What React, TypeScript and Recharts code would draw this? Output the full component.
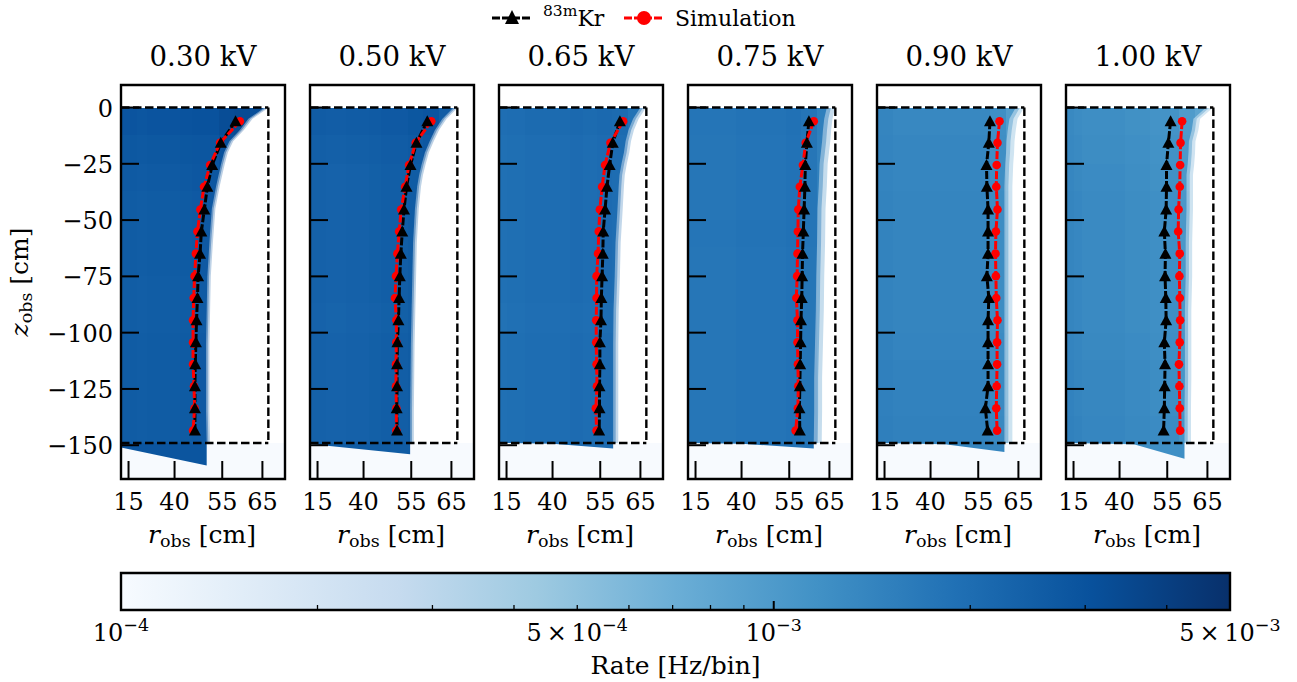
import React from "react";
import {
  Area,
  ComposedChart,
  Line,
  ReferenceArea,
  ReferenceLine,
  XAxis,
  YAxis,
} from "recharts";

// ---------- values ----------
const voltages = ["0.30 kV", "0.50 kV", "0.65 kV", "0.75 kV", "0.90 kV", "1.00 kV"];
const panelLefts = [121, 310, 499, 688, 877, 1066];
const rTicks = [15, 40, 55, 65];
const zTicks = [0, -25, -50, -75, -100, -125, -150];

const markerZ = [-6.1, -15.7, -25.5, -35.2, -45.3, -55.1, -64.9, -74.9, -84.6, -94.5, -104.3, -114, -123.8, -133.6, -143.5];

const krR = [
  [58.5, 54.6, 52.2, 50.8, 49.9, 49.0, 48.6, 48.0, 47.8, 47.5, 47.3, 47.1, 47.0, 47.0, 47.0],
  [59.2, 56.4, 54.8, 53.7, 53.0, 52.5, 52.1, 51.8, 51.6, 51.4, 51.1, 51.0, 51.0, 50.9, 51.0],
  [60.1, 58.3, 57.5, 56.8, 56.3, 55.8, 55.7, 55.5, 55.3, 55.2, 54.9, 54.9, 54.8, 54.8, 54.7],
  [60.1, 59.6, 59.2, 59.1, 58.9, 58.7, 58.5, 58.4, 58.3, 58.1, 58.0, 57.9, 57.8, 57.7, 57.8],
  [58.1, 57.8, 57.2, 57.3, 57.6, 57.6, 57.6, 57.3, 57.8, 57.6, 57.6, 57.6, 57.6, 56.9, 57.5],
  [55.9, 55.3, 54.8, 54.8, 54.7, 54.2, 54.5, 54.4, 54.6, 54.7, 54.2, 54.4, 54.3, 54.2, 54.0],
];
const simR = [
  [59.6, 54.4, 51.6, 49.8, 48.7, 47.8, 47.3, 46.9, 46.6, 46.4, 46.4, 46.4, 46.7, 46.9, 46.4],
  [60.2, 56.2, 54.4, 53.3, 52.2, 51.6, 51.1, 50.7, 50.4, 50.8, 50.8, 50.7, 50.7, 50.8, 50.8],
  [60.9, 57.7, 56.3, 55.5, 54.9, 54.6, 54.4, 54.0, 54.0, 53.9, 53.9, 54.0, 54.1, 53.8, 54.0],
  [61.3, 59.3, 58.6, 57.8, 57.4, 57.3, 57.2, 57.1, 56.9, 57.2, 57.2, 57.3, 57.4, 57.3, 56.7],
  [60.5, 60.0, 59.8, 59.7, 60.0, 59.6, 59.5, 59.6, 59.7, 60.0, 59.9, 59.9, 59.8, 59.7, 59.9],
  [58.9, 58.5, 58.4, 58.3, 58.0, 57.9, 58.3, 58.2, 58.3, 58.4, 58.3, 58.1, 58.2, 58.3, 58.4],
];

// Edge of the populated region, one row per panel, at the depths of edgeZ
const edgeZ = [0, -5, -10, -15, -20, -25, -30, -35, -45, -60, -75, -90, -105, -120, -135, -149];
const edgeR = [
  [65.5, 61.7, 59.6, 56.9, 55.5, 54.7, 54.0, 53.3, 52.1, 51.4, 50.8, 50.6, 50.4, 50.4, 50.4, 50.6],
  [65.5, 62.9, 61.1, 59.8, 58.6, 57.8, 57.1, 56.6, 56.0, 55.5, 55.3, 55.1, 54.9, 54.8, 54.7, 54.7],
  [65.0, 63.3, 62.2, 61.5, 61.1, 60.5, 60.0, 59.8, 59.5, 59.0, 58.8, 58.5, 58.4, 58.4, 58.4, 58.4],
  [64.4, 63.8, 63.5, 63.3, 63.0, 62.7, 62.6, 62.5, 62.2, 62.1, 61.9, 61.8, 61.6, 61.4, 61.4, 61.3],
  [64.4, 62.9, 62.5, 62.2, 62.1, 61.9, 61.8, 61.7, 61.7, 61.7, 61.7, 61.7, 61.7, 61.7, 61.7, 61.7],
  [64.7, 61.7, 61.3, 60.6, 60.5, 60.3, 60.0, 60.0, 60.0, 59.8, 59.8, 59.6, 59.6, 59.6, 59.5, 59.5],
];
const fadeWidth = [1.0, 1.0, 1.3, 1.9, 1.9, 1.6];

// Lower boundary of the tail below the cathode: [z, r]
const tails = [
  [[-149, 0], [-151, 0], [-159, 50.6]],
  [[-149, 0], [-149.5, 0], [-154, 54.7]],
  [[-149, 0], [-149.3, 40], [-151.5, 58.4]],
  [[-149, 0], [-149.3, 40], [-151.5, 61.3]],
  [[-149, 0], [-149.6, 45], [-153, 61.7]],
  [[-149, 0], [-149.6, 45], [-156, 59.5]],
];

// Coarse heat-map read-out: rate in mHz/bin for r bins × z bins
const rBins = [0, 15, 22, 28, 33, 38, 42, 46, 50, 54, 58, 62, 66, 70];
const zBins = [0, -12, -25, -37, -50, -62, -75, -87, -100, -112, -125, -137, -149];
const rateByR = [
  [2.6, 2.6, 2.55, 2.6, 2.6, 2.6, 2.65, 2.7, 2.7, 2.9, 3.0, 2.8, 2.0],
  [2.4, 2.4, 2.35, 2.35, 2.4, 2.4, 2.45, 2.5, 2.5, 2.6, 2.7, 2.4, 2.0],
  [1.9, 1.95, 1.95, 2.0, 2.0, 2.0, 2.0, 2.05, 2.0, 2.05, 2.0, 1.8, 1.5],
  [1.75, 1.75, 1.75, 1.75, 1.75, 1.8, 1.8, 1.8, 1.8, 1.85, 1.75, 1.5, 1.3],
  [1.45, 1.45, 1.4, 1.4, 1.4, 1.4, 1.4, 1.4, 1.4, 1.4, 1.25, 1.0, 0.9],
  [1.4, 1.35, 1.3, 1.3, 1.3, 1.3, 1.25, 1.25, 1.2, 1.2, 1.05, 0.9, 0.8],
];
const rateByZ = [
  [1.12, 1.06, 1.03, 1.0, 1.0, 1.0, 0.98, 0.98, 1.0, 1.0, 1.0, 1.0],
  [1.08, 1.03, 1.0, 1.0, 1.0, 1.0, 1.0, 0.98, 1.0, 1.0, 1.0, 1.0],
  [1.03, 1.0, 1.0, 1.0, 1.0, 1.0, 1.0, 0.98, 1.0, 1.0, 1.0, 1.0],
  [1.02, 1.0, 1.0, 1.0, 1.02, 1.0, 1.0, 1.0, 1.0, 1.0, 1.0, 1.0],
  [0.96, 0.98, 0.98, 1.0, 1.0, 1.0, 1.0, 1.0, 1.02, 1.04, 1.04, 1.06],
  [0.94, 0.96, 0.98, 1.0, 1.0, 1.0, 1.0, 1.0, 1.02, 1.04, 1.04, 1.06],
];

const blues = ["#f7fbff", "#deebf7", "#c6dbef", "#9ecae1", "#6baed6", "#4292c6", "#2171b5", "#08519c", "#08306b"];
const colorbarLabels = [
  { rate: 1e-4, mantissa: "", exp: "\u22124" },
  { rate: 5e-4, mantissa: "5\u2009\u00d7\u200910", exp: "\u22124" },
  { rate: 1e-3, mantissa: "", exp: "\u22123" },
  { rate: 5e-3, mantissa: "5\u2009\u00d7\u200910", exp: "\u22123" },
];
const colorbarMinor = [2e-4, 3e-4, 4e-4, 6e-4, 7e-4, 8e-4, 9e-4, 2e-3, 3e-3, 4e-3];

// ---------- helpers ----------
const FONT = "'DejaVu Serif', serif";
const X_MAX = 4900;
const RATE_MIN = 1e-4;
const RATE_MAX = 5e-3;
const TICK_SIZE = 24;
const LABEL_SIZE = 25;
const SUB_SIZE = 17.5;

const hex = (c: string) => [1, 3, 5].map((i) => parseInt(c.slice(i, i + 2), 16));
function rateColor(rate: number) {
  const t = Math.min(1, Math.max(0, Math.log(rate / RATE_MIN) / Math.log(RATE_MAX / RATE_MIN))) * (blues.length - 1);
  const i = Math.min(blues.length - 2, Math.floor(t));
  const a = hex(blues[i]);
  const b = hex(blues[i + 1]);
  const f = t - i;
  return `rgb(${a.map((v, k) => Math.round(v + (b[k] - v) * f)).join(",")})`;
}

const YTick = (props: any) => {
  const { x, y, payload, labelled } = props;
  return (
    <g>
      <line x1={x} x2={x + 18} y1={y} y2={y} stroke="#000" strokeWidth={2} />
      {labelled && (
        <text x={x - 8} y={y + 9} textAnchor="end" fontFamily={FONT} fontSize={TICK_SIZE} fill="#000">
          {String(payload.value).replace("-", "\u2212")}
        </text>
      )}
    </g>
  );
};

const XTick = (props: any) => {
  const { x, y, payload } = props;
  return (
    <g>
      <line x1={x} x2={x} y1={y} y2={y - 18} stroke="#000" strokeWidth={2} />
      <text x={x} y={y + 31} textAnchor="middle" fontFamily={FONT} fontSize={TICK_SIZE} fill="#000">
        {Math.round(Math.sqrt(payload.value))}
      </text>
    </g>
  );
};

const RLabel = (props: any) => {
  const { viewBox } = props;
  return (
    <text x={viewBox.x + viewBox.width / 2 - 1} y={viewBox.y + 64} textAnchor="middle" fontFamily={FONT} fontSize={LABEL_SIZE} fill="#000">
      <tspan fontStyle="italic">r</tspan>
      <tspan fontSize={SUB_SIZE} dy={4}>obs</tspan>
      <tspan dy={-4}> [cm]</tspan>
    </text>
  );
};

const ZLabel = (props: any) => {
  const { viewBox } = props;
  const cy = viewBox.y + viewBox.height / 2;
  return (
    <text transform={`translate(27 ${cy}) rotate(-90)`} textAnchor="middle" fontFamily={FONT} fontSize={LABEL_SIZE} fill="#000">
      <tspan fontStyle="italic">z</tspan>
      <tspan fontSize={SUB_SIZE} dy={4}>obs</tspan>
      <tspan dy={-4}> [cm]</tspan>
    </text>
  );
};

const triangle = (props: any) => {
  const { cx, cy, index } = props;
  return <path key={index} d={`M${cx} ${cy - 6}L${cx + 6} ${cy + 5}L${cx - 6} ${cy + 5}Z`} fill="#000" />;
};

function Panel({ index }: { index: number }) {
  const left = panelLefts[index];
  const kr = markerZ.map((z, i) => ({ z, r2: krR[index][i] ** 2 }));
  const sim = markerZ.map((z, i) => ({ z, r2: simR[index][i] ** 2 }));
  const maskAt = (offset: number) =>
    edgeZ.map((z, i) => ({ z, range: [(edgeR[index][i] + offset) ** 2, X_MAX] }));
  const edgeEnd = edgeR[index][edgeR[index].length - 1] ** 2;
  const tail = tails[index].map(([z, r]) => ({ z, range: [r * r, edgeEnd] }));
  const fade = fadeWidth[index];

  return (
    <div style={{ position: "absolute", left: left - 120, top: 75 }}>
      <ComposedChart
        layout="vertical"
        width={120 + 164 + 10}
        height={10 + 394 + 80}
        margin={{ top: 10, right: 10, left: 0, bottom: 10 }}
      >
        <XAxis
          type="number"
          dataKey="r2"
          domain={[0, X_MAX]}
          allowDataOverflow
          ticks={rTicks.map((r) => r * r)}
          interval={0}
          height={70}
          tickSize={0}
          tickMargin={0}
          tickLine={false}
          axisLine={false}
          tick={<XTick />}
          label={<RLabel />}
        />
        <YAxis
          type="number"
          dataKey="z"
          reversed
          domain={[-165, 10]}
          allowDataOverflow
          ticks={zTicks}
          interval={0}
          width={120}
          tickSize={0}
          tickMargin={0}
          tickLine={false}
          axisLine={false}
          tick={<YTick labelled={index === 0} />}
          label={index === 0 ? <ZLabel /> : undefined}
        />

        <ReferenceArea x1={0} x2={X_MAX} y1={-149} y2={-165} fill="#f7fafe" fillOpacity={1} stroke="none" />
        {zBins.slice(1).map((z, row) =>
          rBins.slice(1).map((r, col) => (
            <ReferenceArea
              key={`${row}-${col}`}
              x1={rBins[col] ** 2}
              x2={r * r}
              y1={zBins[row]}
              y2={z}
              fill={rateColor(rateByR[index][col] * rateByZ[index][row] * 1e-3)}
              fillOpacity={1}
              stroke="none"
              shapeRendering="crispEdges"
            />
          ))
        )}

        <Area data={maskAt(0)} dataKey="range" stroke="none" fill="#fff" fillOpacity={0.4} isAnimationActive={false} dot={false} activeDot={false} />
        <Area data={maskAt(fade / 2)} dataKey="range" stroke="none" fill="#fff" fillOpacity={0.55} isAnimationActive={false} dot={false} activeDot={false} />
        <Area data={maskAt(fade)} dataKey="range" stroke="none" fill="#fff" fillOpacity={1} isAnimationActive={false} dot={false} activeDot={false} />
        <Area data={tail} dataKey="range" stroke="none" fill={rateColor(rateByR[index][9] * 1e-3)} fillOpacity={1} isAnimationActive={false} dot={false} activeDot={false} />

        <ReferenceLine segment={[{ x: 0, y: 0 }, { x: 66.35 ** 2, y: 0 }]} stroke="#000" strokeWidth={2.4} strokeDasharray="8.5 3.5" />
        <ReferenceLine segment={[{ x: 66.35 ** 2, y: 0 }, { x: 66.35 ** 2, y: -149 }]} stroke="#000" strokeWidth={2.4} strokeDasharray="8.5 3.5" />
        <ReferenceLine segment={[{ x: 0, y: -149 }, { x: 66.35 ** 2, y: -149 }]} stroke="#000" strokeWidth={2.4} strokeDasharray="8.5 3.5" />

        <Line data={kr} dataKey="r2" stroke="#000" strokeWidth={3} strokeDasharray="8 2" dot={false} activeDot={false} isAnimationActive={false} />
        <Line data={sim} dataKey="r2" stroke="#ff0000" strokeWidth={3} strokeDasharray="8 2" dot={{ r: 4.3, fill: "#ff0000", stroke: "#ff0000", strokeWidth: 0 }} activeDot={false} isAnimationActive={false} />
        <Line data={kr} dataKey="r2" stroke="none" dot={triangle} activeDot={false} isAnimationActive={false} />

        <ReferenceArea x1={0} x2={X_MAX} y1={-165} y2={10} fill="none" stroke="#000" strokeWidth={2.4} />
      </ComposedChart>
      <div
        style={{
          position: "absolute",
          left: 100,
          width: 204,
          top: -33,
          textAlign: "center",
          fontFamily: FONT,
          fontSize: 27.6,
          lineHeight: "30px",
          whiteSpace: "nowrap",
        }}
      >
        {voltages[index]}
      </div>
    </div>
  );
}

const CbTick = (props: any) => {
  const { x, y, payload } = props;
  const label = colorbarLabels.find((l) => l.rate === payload.value);
  const major = payload.value === 1e-3;
  return (
    <g>
      <line x1={x} x2={x} y1={y} y2={y - (major ? 9 : 5)} stroke="#000" strokeWidth={major ? 2 : 1.3} />
      {label && (
        <text x={x} y={y + 31} textAnchor="middle" fontFamily={FONT} fontSize={TICK_SIZE} fill="#000">
          {label.mantissa || "10"}
          <tspan fontSize={SUB_SIZE} dy={-10}>{label.exp}</tspan>
        </text>
      )}
    </g>
  );
};

const RateLabel = (props: any) => {
  const { viewBox } = props;
  return (
    <text x={viewBox.x + viewBox.width / 2} y={viewBox.y + 64} textAnchor="middle" fontFamily={FONT} fontSize={LABEL_SIZE} fill="#000">
      Rate [Hz/bin]
    </text>
  );
};

function Colorbar() {
  const data = [
    { rate: RATE_MIN, span: 1 },
    { rate: RATE_MAX, span: 1 },
  ];
  return (
    <div style={{ position: "absolute", left: 81, top: 563 }}>
      <ComposedChart
        data={data}
        width={1209}
        height={119}
        margin={{ top: 10, right: 60, left: 40, bottom: 0 }}
      >
        <defs>
          <linearGradient id="blues" x1="0" x2="1" y1="0" y2="0">
            {blues.map((c, i) => (
              <stop key={c} offset={i / (blues.length - 1)} stopColor={c} />
            ))}
          </linearGradient>
        </defs>
        <XAxis
          type="number"
          dataKey="rate"
          scale="log"
          domain={[RATE_MIN, RATE_MAX]}
          allowDataOverflow
          ticks={[...colorbarLabels.map((l) => l.rate), ...colorbarMinor].sort((a, b) => a - b)}
          interval={0}
          height={72}
          tickSize={0}
          tickMargin={0}
          tickLine={false}
          axisLine={false}
          tick={<CbTick />}
          label={<RateLabel />}
        />
        <YAxis hide domain={[0, 1]} />
        <Area dataKey="span" type="linear" stroke="none" fill="url(#blues)" fillOpacity={1} isAnimationActive={false} dot={false} activeDot={false} />
        <ReferenceArea x1={RATE_MIN} x2={RATE_MAX} y1={0} y2={1} fill="none" stroke="#000" strokeWidth={2.4} />
      </ComposedChart>
    </div>
  );
}

function Legend() {
  return (
    <svg style={{ position: "absolute", left: 480, top: 0 }} width={340} height={40}>
      <line x1={12} x2={51} y1={18} y2={18} stroke="#000" strokeWidth={3} strokeDasharray="8 2" />
      <path d="M32 10L39 24L25 24Z" fill="#000" />
      <text x={63} y={26} fontFamily={FONT} fontSize={22} fill="#000">
        <tspan fontSize={15.5} dy={-10}>83m</tspan>
        <tspan dy={10}>Kr</tspan>
      </text>
      <line x1={144} x2={183} y1={18} y2={18} stroke="#ff0000" strokeWidth={3} strokeDasharray="8 2" />
      <circle cx={164} cy={18} r={7} fill="#ff0000" />
      <text x={195} y={26} fontFamily={FONT} fontSize={22} fill="#000">Simulation</text>
    </svg>
  );
}

export default function App() {
  return (
    <div style={{ position: "absolute", left: 0, top: 0, width: 1297, height: 682, background: "#fff", overflow: "hidden" }}>
      <Legend />
      {voltages.map((_, i) => (
        <Panel key={i} index={i} />
      ))}
      <Colorbar />
    </div>
  );
}
